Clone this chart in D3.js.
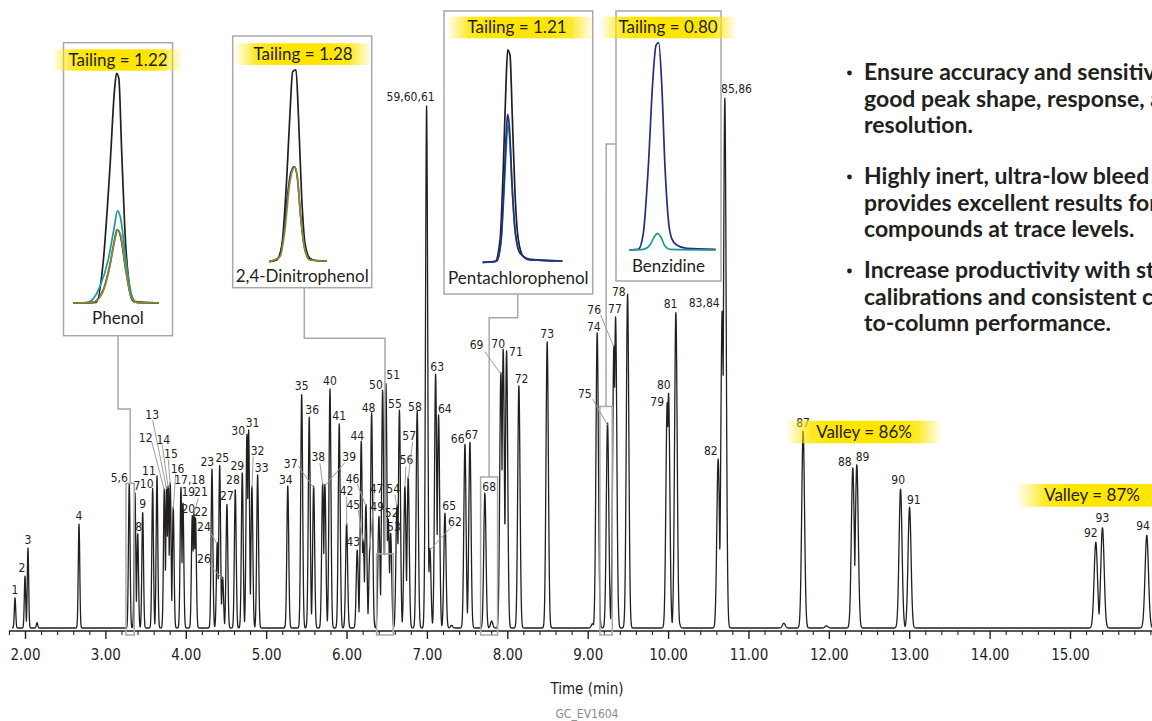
<!DOCTYPE html>
<html><head><meta charset="utf-8">
<script src="https://cdn.jsdelivr.net/npm/d3@7"></script>
<style>
body{margin:0;background:#fff;}
svg{display:block;}
.nar{font-family:"Liberation Sans Narrow","DejaVu Sans Condensed","Arial Narrow",sans-serif;fill:#231f20;}
.hum{font-family:Lato,"Open Sans",sans-serif;fill:#231f20;}
</style></head><body>
<svg id="c" width="1152" height="721"></svg>
<script>
// ---------------- DATA ----------------
const peakNames = ["1","2","3","4","5,6","7","8","9","10","11","12","13","14","15","16","17,18","19","20","21","22","23","24","25","26","27","28","29","30","31","32","33","34","35","36","37","38","39","40","41","42","43","44","45","46","47","48","49","50","51","52","53","54","55","56","57","58","59,60,61","62","63","64","65","66","67","68","69","70","71","72","73","74","75","76","77","78","79","80","81","82","83,84","85,86","87","88","89","90","91","92","93","94"];
const peakTimes = [1.876,2.000,2.037,2.672,3.297,3.368,3.402,3.464,3.588,3.642,3.733,3.762,3.782,3.807,3.844,3.940,3.965,4.081,4.102,4.121,4.326,4.392,4.422,4.459,4.512,4.616,4.703,4.761,4.782,4.823,4.894,5.269,5.442,5.536,5.591,5.703,5.731,5.794,5.909,6.001,6.133,6.183,6.208,6.241,6.291,6.312,6.403,6.449,6.490,6.519,6.549,6.627,6.658,6.726,6.767,6.879,6.996,7.037,7.108,7.145,7.224,7.473,7.535,7.721,7.920,7.949,7.991,8.144,8.496,9.118,9.247,9.326,9.347,9.496,9.989,10.006,10.097,10.623,10.673,10.706,11.680,12.298,12.348,12.892,13.004,15.321,15.404,15.955];
const peakHeights = [5.7,9.8,15.1,19.6,27.2,25.5,17.9,21.9,26.4,28.7,26.4,26.6,26.8,27.5,22.8,26.6,23.6,21.3,21.9,20.9,30.0,16.2,30.8,9.6,23.4,26.2,29.4,36.6,37.4,26.8,28.9,26.8,44.2,39.8,26.8,27.4,27.2,45.1,38.5,19.8,14.7,35.3,16.6,23.4,15.3,40.6,21.1,44.9,46.2,20.6,17.9,23.2,41.1,26.8,28.5,40.9,98.5,15.1,47.9,40.2,21.7,34.7,35.1,25.5,48.3,52.6,52.3,45.8,54.0,55.7,38.7,53.4,58.7,63.0,42.5,44.3,59.6,31.9,59.8,100,37.2,30.2,30.8,26.2,22.8,16.2,18.9,17.5];
const minorTimes = [2.149,7.307,7.805,9.060,10.126,11.440,11.970];
const minorHeights = [1.0,0.5,1.3,0.8,1.8,0.9,0.4];
const majorTicks = [2,3,4,5,6,7,8,9,10,11,12,13,14,15];
const xAxisTitle = "Time (min)";
const footNote = "GC_EV1604";

// inset traces (local units: x 0-100 across trace, y 0-100 of tallest trace)
const phenolBlack = [[0,0],[27.2,0.3],[35,17.4],[42.8,58],[48.6,94.2],[50.6,100],[53.3,97.8],[56.4,68.1],[60.3,31.9],[66.1,5.8],[70,0.7],[100,0]];
const phenolTeal  = [[0,0],[17.5,0.3],[31.1,7],[40.9,18.8],[47.5,31.9],[51.8,40.1],[55.3,37],[61.5,18.8],[68.1,3.6],[73.9,0.3],[100,0]];
const phenolNavy  = [[0,0],[23,0.3],[35,5.5],[42.8,16.5],[48.6,28],[51.2,32],[55,29.5],[61.5,14],[68.1,2],[74,0.3],[100,0]];
const phenolOlive = [[0,0],[23.3,0.3],[35,5.1],[42.8,15.9],[48.6,27.5],[51.8,31.9],[55.3,29.7],[61.5,14.5],[68.1,2.2],[73.9,0.3],[100,0]];
const dnpBlack = [[0,0],[12.8,0.9],[21.5,7.8],[30.2,42.5],[36,77.1],[40.7,98.8],[46.5,99.7],[50.6,77.1],[56.4,33.8],[62.2,9.5],[70.9,1.7],[82.6,0.5],[100,0.3]];
const dnpNavy  = [[0,0],[16,2],[24.4,12.8],[31.4,33.8],[37.2,45.9],[43.6,49.4],[48.8,44],[54.7,23],[62.2,6],[70.9,1],[100,0.3]];
const dnpOlive = [[0,0],[18.6,2.6],[27.3,16.5],[34.9,39],[40.7,47.7],[44.8,49.1],[48.8,44.2],[54.7,23.4],[62.2,6.1],[70.9,0.9],[100,0.3]];
const pcpBlack = [[0,0],[15.5,0.3],[21.8,10.5],[25.9,45],[29.3,84],[31.4,99.7],[34.3,97.3],[37.2,68.4],[40.6,32.4],[44.8,10.5],[51,2.7],[59.4,1.1],[100,0.6]];
const pcpTeal  = [[0,0],[17.6,0.6],[23,9.5],[26.8,33],[30.1,57],[31.8,64.5],[34,58],[36.8,36],[41,13.5],[46.9,4.2],[59.4,1.4],[100,0.6]];
const pcpNavy  = [[0,0],[17.6,0.6],[23,10.5],[26.8,37.2],[30.1,63.8],[31.4,69.5],[33.5,63.8],[36.8,37.2],[41,14.1],[46.9,4.4],[59.4,1.4],[100,0.6]];
const benzNavy = [[0,0],[10.4,0.3],[16.2,8],[22,40.2],[27,80.4],[30.9,98.7],[34,100],[37.5,80.4],[41.3,40.2],[45.2,14.5],[49,5.6],[54.8,2.4],[66.4,0.8],[100,0.3]];
const benzTeal = [[0,0],[16.2,0.3],[23.9,2.4],[28.6,6.1],[32.8,8],[36.3,6.4],[41.3,1.9],[47.1,0.3],[100,0]];

const insetNames = ["Phenol","2,4-Dinitrophenol","Pentachlorophenol","Benzidine"];
const tailingValues = ["1.22","1.28","1.21","0.80"];
const valleyTexts = ["Valley = 86%","Valley = 87%"];
const bulletLines = [
  ["Ensure accuracy and sensitivity with","good peak shape, response, and","resolution."],
  ["Highly inert, ultra-low bleed column","provides excellent results for active","compounds at trace levels."],
  ["Increase productivity with stable","calibrations and consistent column-","to-column performance."]
];

// ---------------- LAYOUT ----------------
const labelLayout = {
"2":{dx:-3,dy:-8},"5,6":{dx:-10,dy:-6.5},"7":{dx:2,dy:-7},"8":{dx:1,dy:-6.5},"10":{dx:-6,dy:-4},"11":{dx:-8,dy:-5},
"12":{dx:-18.6,dy:-50.3,lx:-12.6,ly:-46.3},"13":{dx:-14.4,dy:-72.7,lx:-14,ly:-67},"14":{dx:-5,dy:-46.7,lx:-6,ly:-41},
"15":{dx:0.7,dy:-28.7,lx:-2,ly:-22.7},"16":{dx:4.4,dy:-38.7,lx:2.4,ly:-33},"17,18":{dx:8.7,dy:-7},"19":{dx:5.3,dy:-11},
"20":{dx:-4,dy:-6.7},"21":{dx:7,dy:-20.3,lx:4.3,ly:-13.7},"22":{dx:5.5,dy:-6},"23":{dx:-4.7,dy:-7.3},
"24":{dx:-13.3,dy:-15.3,lx:-7.3,ly:-10.3},"25":{dx:2.6,dy:-6.7},"26":{dx:-18.7,dy:-18.7,lx:-12.7,ly:-12},
"28":{dx:-2.3,dy:-9},"29":{dx:-5,dy:-7},"30":{dx:-8.7,dy:-3},"31":{dx:4,dy:-6.7},"32":{dx:5.7,dy:-35,lx:1.3,ly:-29.3},
"33":{dx:4,dy:-6.7},"34":{dx:-2,dy:-6},"36":{dx:3,dy:-7.7},"37":{dx:-23,dy:-22.7,lx:-15.4,ly:-20},
"38":{dx:-4.4,dy:-26.3,lx:-2.7,ly:-19.7},"39":{dx:24.3,dy:-27.3,lx:20,ly:-21.3},"42":{dx:0,dy:-32,lx:0,ly:-26.3},
"43":{dx:-4,dy:-8.3},"44":{dx:-4,dy:-5},"45":{dx:-10,dy:-35,lx:-5,ly:-30},"46":{dx:-13.3,dy:-25.7,lx:-8.7,ly:-20},
"47":{dx:6.7,dy:-58.7,lx:4.3,ly:-53.7},"48":{dx:-3,dy:-5.3},"49":{dx:-1.7,dy:-9.3},"50":{dx:-6.7,dy:-5},"51":{dx:7.3,dy:-8},
"52":{dx:3.4,dy:-5.7},"53":{dx:3.3,dy:-6.3},"54":{dx:-3.7,dy:-16.7,lx:-2,ly:-10},"55":{dx:-4.5,dy:-6.7},
"56":{dx:1.7,dy:-26,lx:1,ly:-19.3},"57":{dx:1,dy:-41,lx:4.4,ly:-35.3},"58":{dx:-2.3,dy:-5},"59,60,61":{dx:-16,dy:-9},
"62":{dx:25,dy:-26.3,lx:21.7,ly:-21.3},"63":{dx:1.6,dy:-7.3},"64":{dx:6.3,dy:-6.7},"65":{dx:4.3,dy:-7.3},"66":{dx:-7.3,dy:-5.7},
"67":{dx:1.7,dy:-7.7},"68":{dx:4.3,dy:-6.3},"69":{dx:-24.3,dy:-27,lx:-16,ly:-20.3},"70":{dx:-5,dy:-5.7},"71":{dx:9.3,dy:1.3},
"72":{dx:2.7,dy:-6.7},"74":{dx:-3.3,dy:-5.7},"75":{dx:-22.7,dy:-29.7,lx:-15,ly:-23.7},"76":{dx:-19.7,dy:-35.7,lx:-13.3,ly:-30},
"77":{dx:-0.7,dy:-8.4},"78":{dx:-8.7,dy:-2.3},"79":{dx:-10,dy:-1.3},"80":{dx:-4.7,dy:-8.7},"81":{dx:-5.3,dy:-8.4},
"82":{dx:-7.3,dy:-8.3},"83,84":{dx:-18,dy:-8.4},"85,86":{dx:11.7,dy:-9.7},"88":{dx:-8,dy:-6.6},"89":{dx:5.7,dy:-7.6},
"90":{dx:-2.4,dy:-9.3},"91":{dx:4.3,dy:-7.7},"92":{dx:-5,dy:-9},"93":{dx:0,dy:-10.6},"94":{dx:-3.7,dy:-10}
};

const svg = d3.select("#c");
const W = 1152, H = 721;
const x = d3.scaleLinear().domain([2,15]).range([25,1070]);
const y = d3.scaleLinear().domain([0,100]).range([628,98]);
const axisY = 631;

const defs = svg.append("defs");
const g = defs.append("linearGradient").attr("id","band").attr("x1","0").attr("x2","1").attr("y1","0").attr("y2","0");
[[0,0],[0.16,0.85],[0.3,1],[0.7,1],[0.84,0.85],[1,0]].forEach(([o,a])=>g.append("stop").attr("offset",o).attr("stop-color","#ffe500").attr("stop-opacity",a));

// ------------- chromatogram -------------
const peaks = peakTimes.map((t,i)=>({t,h:peakHeights[i],name:peakNames[i]}));
const minors = minorTimes.map((t,i)=>({t,h:minorHeights[i]}));
const allPk = peaks.concat(minors);
const sig = t => 0.0068 + 0.00092*t;
const pts = [];
for (let px = 12; px <= W+2; px += 0.2) {
  const t = x.invert(px);
  let v = 0;
  for (const p of allPk) {
    const s = sig(p.t), d = (t-p.t)/s;
    if (Math.abs(d) < 6) v = Math.max(v, p.h*Math.exp(-0.5*d*d));
  }
  pts.push([t,v]);
}
svg.append("path").datum(pts)
  .attr("d", d3.line().x(d=>x(d[0])).y(d=>y(d[1])))
  .attr("fill","none").attr("stroke","#231f20").attr("stroke-width",1.3).attr("stroke-linejoin","round");

// ------------- axis -------------
const minorTicks = d3.range(18,161,2).map(v=>v/10).filter(v=>!majorTicks.includes(v));
const ax = svg.append("g").attr("transform",`translate(0,${axisY})`);
ax.append("line").attr("x1",x(1.8)).attr("x2",W).attr("y1",0).attr("y2",0).attr("stroke","#231f20").attr("stroke-width",1.6);
const majAx = d3.axisBottom(x).tickValues(majorTicks).tickFormat(d3.format(".2f")).tickSize(8).tickPadding(10);
const gMaj = ax.append("g").call(majAx);
gMaj.select(".domain").remove();
gMaj.selectAll(".tick line").attr("stroke","#231f20").attr("stroke-width",1.4);
gMaj.selectAll(".tick text").attr("class","nar").style("font-size","15px").attr("fill","#231f20");
const minAx = d3.axisBottom(x).tickValues(minorTicks).tickFormat("").tickSize(4);
const gMin = ax.append("g").call(minAx);
gMin.select(".domain").remove();
gMin.selectAll(".tick line").attr("stroke","#231f20").attr("stroke-width",1.1);

svg.append("text").attr("class","nar").attr("x",587).attr("y",694).attr("text-anchor","middle").style("font-size","15px").text(xAxisTitle);
svg.append("text").attr("class","nar").attr("x",587).attr("y",718).attr("text-anchor","middle").style("font-size","12px").style("fill","#8a8a8a").text(footNote);

// ------------- peak labels -------------
const lab = svg.append("g");
peaks.forEach(p=>{
  const L = labelLayout[p.name] || {dx:0,dy:-8.5};
  const ax0 = x(p.t), ay0 = y(p.h);
  if (L.lx !== undefined) {
    lab.append("line").attr("x1",ax0+L.lx).attr("y1",ay0+L.ly).attr("x2",ax0).attr("y2",ay0+2)
      .attr("stroke","#9d9d9d").attr("stroke-width",1);
  }
  lab.append("text").attr("class","nar").attr("x",ax0+L.dx).attr("y",ay0+L.dy).attr("dy","0.36em")
    .attr("text-anchor","middle").style("font-size","12px").text(p.name);
});

// ------------- highlight boxes around peaks & connectors -------------
const grey = "#a8a8a8";
const boxes = [
  {t0:3.256,t1:3.359,top:27.3, path:[[118,336],[118,409],[130.2,409]]},
  {t0:6.374,t1:6.581,top:14.0, path:[[304.3,288],[304.3,338.3],[385,338.3]]},
  {t0:7.668,t1:7.879,top:28.5, path:[[517.7,294],[517.7,317.7],[489.2,317.7]]},
  {t0:9.152,t1:9.305,top:41.8, path:[[616,144],[606.2,144]]}
];
boxes.forEach(b=>{
  const bx0 = x(b.t0), bx1 = x(b.t1), by = y(b.top);
  svg.append("rect").attr("x",bx0).attr("y",by).attr("width",bx1-bx0).attr("height",635-by)
    .attr("fill","none").attr("stroke",grey).attr("stroke-width",1.5);
  const pp = b.path.concat([[ (bx0+bx1)/2, by ]]);
  svg.append("path").attr("d",d3.line()(pp)).attr("fill","none").attr("stroke",grey).attr("stroke-width",1.5);
});

// ------------- insets -------------
const insets = [
  {box:[63.5,42.7,109,293], tr:[73,159,303,73.3], band:[52,183,49.3,70.7], tx:118, tb:66, lb:324,
   traces:[[phenolBlack,"#231f20"],[phenolTeal,"#1b9a96"],[phenolNavy,"#262c7e"],[phenolOlive,"#8e8c2c"]]},
  {box:[232.7,36,139,251.7], tr:[269.3,326.7,261.7,69.3], band:[234,372,43.3,65], tx:303, tb:60, lb:282,
   traces:[[dnpBlack,"#231f20"],[dnpNavy,"#262c7e"],[dnpOlive,"#8e8c2c"]]},
  {box:[444,11,148.7,283], tr:[482.7,562.3,262.3,49.3], band:[446,594,16.7,38.3], tx:517, tb:33, lb:284,
   traces:[[pcpBlack,"#231f20"],[pcpTeal,"#1b9a96"],[pcpNavy,"#262c7e"]]},
  {box:[616,11,105,270], tr:[629.3,715.7,250,42.7], band:[600,737,16.7,38.3], tx:668, tb:33, lb:272,
   traces:[[benzNavy,"#262c7e"],[benzTeal,"#1b9a96"]]}
];
insets.forEach((s,i)=>{
  const gI = svg.append("g");
  gI.append("rect").attr("x",s.box[0]).attr("y",s.box[1]).attr("width",s.box[2]).attr("height",s.box[3])
    .attr("fill","#fff").attr("stroke",grey).attr("stroke-width",1.5);
  gI.append("rect").attr("x",s.band[0]).attr("y",s.band[2]).attr("width",s.band[1]-s.band[0]).attr("height",s.band[3]-s.band[2])
    .attr("fill","url(#band)");
  gI.append("text").attr("class","hum").attr("x",s.tx).attr("y",s.tb).attr("text-anchor","middle").style("font-size","17px")
    .text("Tailing = " + tailingValues[i]);
  const ix = d3.scaleLinear().domain([0,100]).range([s.tr[0],s.tr[1]]);
  const iy = d3.scaleLinear().domain([0,100]).range([s.tr[2],s.tr[3]]);
  const ln = d3.line().x(d=>ix(d[0])).y(d=>iy(d[1])).curve(d3.curveMonotoneX);
  s.traces.forEach(([data,col])=>{
    gI.append("path").attr("d",ln(data)).attr("fill","none").attr("stroke",col).attr("stroke-width",1.7).attr("stroke-linejoin","round");
  });
  gI.append("text").attr("class","hum").attr("x",s.box[0]+s.box[2]/2).attr("y",s.lb).attr("text-anchor","middle").style("font-size","17px")
    .text(insetNames[i]);
});

// ------------- valley annotations -------------
const valleys = [{band:[786,942,420.7,443.3], tx:864, tb:438},{band:[1016,1200,484,506.7], tx:1092, tb:501}];
valleys.forEach((v,i)=>{
  svg.append("rect").attr("x",v.band[0]).attr("y",v.band[2]).attr("width",v.band[1]-v.band[0]).attr("height",v.band[3]-v.band[2]).attr("fill","url(#band)");
  svg.append("text").attr("class","hum").attr("x",v.tx).attr("y",v.tb).attr("text-anchor","middle").style("font-size","17px").text(valleyTexts[i]);
});

// ------------- bullet text -------------
const paraY = [80,184,278];
bulletLines.forEach((lines,i)=>{
  svg.append("circle").attr("cx",849.5).attr("cy",paraY[i]-7).attr("r",2.4).attr("fill","#231f20");
  lines.forEach((ln,j)=>{
    svg.append("text").attr("class","hum").attr("x",864).attr("y",paraY[i]+j*26.5).style("font-size","23px").style("font-weight","bold").text(ln);
  });
});
</script>
</body></html>
